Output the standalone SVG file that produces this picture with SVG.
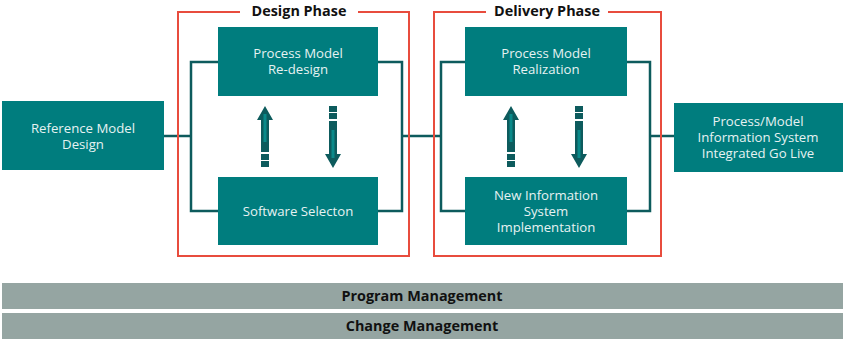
<svg xmlns="http://www.w3.org/2000/svg" width="846" height="343" viewBox="0 0 846 343">
<style>
.box{fill:#007d7e}
.t{font-family:"Open Sans",sans-serif;font-size:13.2px;fill:#e6f2f2;text-anchor:middle}
.h{font-family:"Open Sans",sans-serif;font-size:14.4px;font-weight:bold;fill:#111;text-anchor:middle}
.phase{fill:none;stroke:#e84c3d;stroke-width:2}
.conn{fill:none;stroke:#0d5b5d;stroke-width:2.5}
.bar{fill:#95a5a2}
.ah{fill:#0d5b5d}
.as{fill:#0a8a8a}
</style>
<defs>
<g id="up">
<polygon class="ah" points="0,0 8,14 4,14 4,46 -4,46 -4,14 -8,14"/>
<rect class="as" x="-1.5" y="8" width="3" height="28"/>
<rect class="ah" x="-4" y="48" width="8" height="6"/>
<rect class="ah" x="-4" y="55" width="8" height="6"/>
</g>
<g id="down">
<rect class="ah" x="-4" y="0" width="8" height="6"/>
<rect class="ah" x="-4" y="7" width="8" height="6"/>
<polygon class="ah" points="-4,15 4,15 4,48 8,48 0,62 -8,48 -4,48"/>
<rect class="as" x="-1.5" y="24" width="3" height="28"/>
</g>
</defs>
<g id="connectors">
<rect class="conn" x="191" y="62" width="211" height="149"/>
<rect class="conn" x="441" y="62" width="209" height="149"/>
<line class="conn" x1="164" y1="136" x2="191" y2="136"/>
<line class="conn" x1="402" y1="136" x2="441" y2="136"/>
<line class="conn" x1="650" y1="136" x2="674" y2="136"/>
</g>
<g id="design-phase">
<path class="phase" d="M240,12 H178 V256 H409 V12 H358"/>
<text class="h" x="299" y="16">Design Phase</text>
</g>
<g id="delivery-phase">
<path class="phase" d="M486,12 H434 V256 H661 V12 H608"/>
<text class="h" x="547" y="16">Delivery Phase</text>
</g>
<g id="reference-model">
<rect class="box" x="2" y="101" width="162" height="69"/>
<text class="t" x="83" y="133">Reference Model</text>
<text class="t" x="83" y="149">Design</text>
</g>
<g id="pm-redesign">
<rect class="box" x="218" y="27" width="160" height="69"/>
<text class="t" x="298" y="58">Process Model</text>
<text class="t" x="298" y="74">Re-design</text>
</g>
<g id="software-selection">
<rect class="box" x="218" y="177" width="160" height="68"/>
<text class="t" x="298" y="216">Software Selecton</text>
</g>
<g id="pm-realization">
<rect class="box" x="465" y="27" width="162" height="69"/>
<text class="t" x="546" y="58">Process Model</text>
<text class="t" x="546" y="74">Realization</text>
</g>
<g id="nis-implementation">
<rect class="box" x="465" y="177" width="162" height="68"/>
<text class="t" x="546" y="200">New Information</text>
<text class="t" x="546" y="216">System</text>
<text class="t" x="546" y="232">Implementation</text>
</g>
<g id="go-live">
<rect class="box" x="674" y="103" width="169" height="69"/>
<text class="t" x="758" y="126">Process/Model</text>
<text class="t" x="758" y="142">Information System</text>
<text class="t" x="758" y="158">Integrated Go Live</text>
</g>
<g id="arrows">
<use href="#up" x="265" y="106"/>
<use href="#down" x="333" y="106"/>
<use href="#up" x="511" y="106"/>
<use href="#down" x="579" y="106"/>
</g>
<g id="program-management">
<rect class="bar" x="2" y="283" width="841" height="26"/>
<text class="h" x="422" y="301">Program Management</text>
</g>
<g id="change-management">
<rect class="bar" x="2" y="313" width="841" height="26"/>
<text class="h" x="422" y="331">Change Management</text>
</g>
</svg>
